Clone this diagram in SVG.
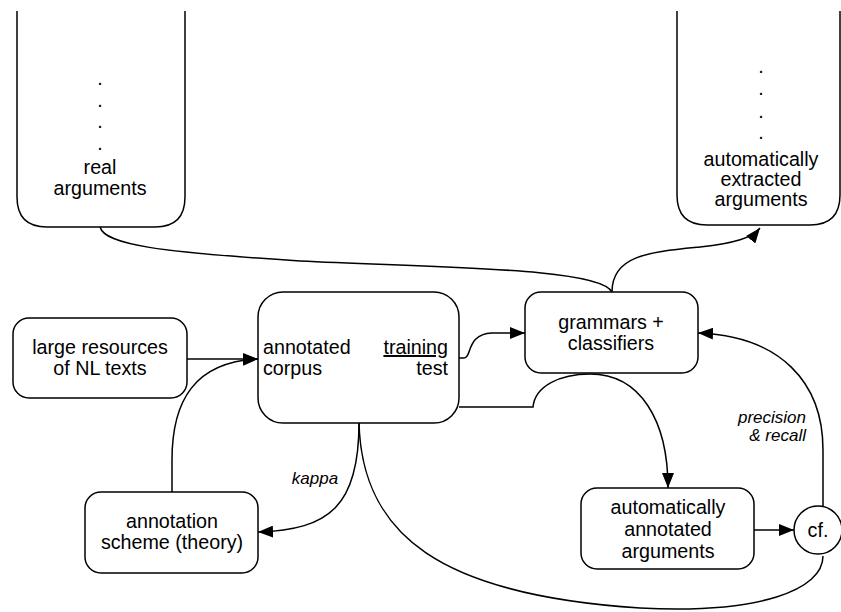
<svg xmlns="http://www.w3.org/2000/svg" width="841" height="612" viewBox="0 0 841 612">
<defs>
<marker id="arr" markerUnits="userSpaceOnUse" markerWidth="16" markerHeight="12" refX="15" refY="6" orient="auto">
<path d="M0,0 L15,6 L0,12 Z" fill="#000"/>
</marker>
<style>
.box{fill:#fff;stroke:#000;stroke-width:1.5}
.t{font-family:"Liberation Sans",Arial,sans-serif;font-size:19.7px;fill:#000;text-anchor:middle}
.ts{font-family:"Liberation Sans",Arial,sans-serif;font-size:19.7px;fill:#000;text-anchor:start}
.te{font-family:"Liberation Sans",Arial,sans-serif;font-size:19.7px;fill:#000;text-anchor:end}
.l{font-family:"Liberation Sans",Arial,sans-serif;font-size:17px;font-style:italic;fill:#000}
.c{fill:none;stroke:#000;stroke-width:1.5}
</style>
</defs>
<rect width="841" height="612" fill="#fff"/>
<g id="connectors">
<path class="c" d="M100,227 C105,245 160,252 300,261 C450,268 600,268 612,292"/>
<path class="c" d="M612,292 C612,255 650,252 700,247 C735,243 752,238 760,228" marker-end="url(#arr)"/>
<path class="c" d="M187,359 L258,359" marker-end="url(#arr)"/>
<path class="c" d="M172,492 L172,460 C172,400 195,362 258,359" marker-end="url(#arr)"/>
<path class="c" d="M459,358 L464,358 C472,358 466,334 492,333 L525,333" marker-end="url(#arr)"/>
<path class="c" d="M459,407 L533,407 C535,386 560,374 590,374 C640,374 668,420 668,488" marker-end="url(#arr)"/>
<path class="c" d="M754,530 L794,530" marker-end="url(#arr)"/>
<path class="c" d="M823,507 L823,450 C823,382 780,336 698,333" marker-end="url(#arr)"/>
<path class="c" d="M359,423 C359,505 330,530 258,532" marker-end="url(#arr)"/>
<path class="c" d="M359,423 C362,535 440,595 640,608 C760,614 823,590 823,556"/>
<text class="l" x="315" y="484" text-anchor="middle">kappa</text>
<text class="l" x="806" y="423" text-anchor="end">precision</text>
<text class="l" x="806" y="441" text-anchor="end">&amp; recall</text>
</g>
<g id="real-arguments">
<path class="box" d="M17,11 L17,197 Q17,227 47,227 L155,227 Q185,227 185,197 L185,11"/>
<text class="t" x="100" y="85">.</text>
<text class="t" x="100" y="107">.</text>
<text class="t" x="100" y="128">.</text>
<text class="t" x="100" y="150">.</text>
<text class="t" x="100" y="174">real</text>
<text class="t" x="100" y="195">arguments</text>
</g>
<g id="extracted-arguments">
<path class="box" d="M677,11 L677,195 Q677,225 707,225 L810,225 Q840,225 840,195 L840,11"/>
<text class="t" x="761" y="73">.</text>
<text class="t" x="761" y="95">.</text>
<text class="t" x="761" y="118">.</text>
<text class="t" x="761" y="139">.</text>
<text class="t" x="761" y="166">automatically</text>
<text class="t" x="761" y="186">extracted</text>
<text class="t" x="761" y="206">arguments</text>
</g>
<g id="large-resources">
<rect class="box" x="13" y="318" width="174" height="80" rx="16"/>
<text class="t" x="100" y="354">large resources</text>
<text class="t" x="100" y="375">of NL texts</text>
</g>
<g id="annotated-corpus">
<rect class="box" x="258" y="292" width="201" height="131" rx="25"/>
<text class="ts" x="263" y="354">annotated</text>
<text class="ts" x="263" y="375">corpus</text>
<text class="te" x="448" y="354" text-decoration="underline">training</text>
<text class="te" x="448" y="375">test</text>
</g>
<g id="grammars">
<rect class="box" x="525" y="292" width="173" height="81" rx="16"/>
<text class="t" x="611" y="329">grammars +</text>
<text class="t" x="611" y="350">classifiers</text>
</g>
<g id="annotation-scheme">
<rect class="box" x="85" y="492" width="173" height="81" rx="16"/>
<text class="t" x="172" y="528">annotation</text>
<text class="t" x="172" y="549">scheme (theory)</text>
</g>
<g id="auto-annotated">
<rect class="box" x="581" y="488" width="173" height="81" rx="16"/>
<text class="t" x="668" y="514">automatically</text>
<text class="t" x="668" y="536">annotated</text>
<text class="t" x="668" y="558">arguments</text>
</g>
<g id="cf">
<circle class="box" cx="818" cy="530" r="24"/>
<text class="t" x="818" y="537">cf.</text>
</g>
</svg>
